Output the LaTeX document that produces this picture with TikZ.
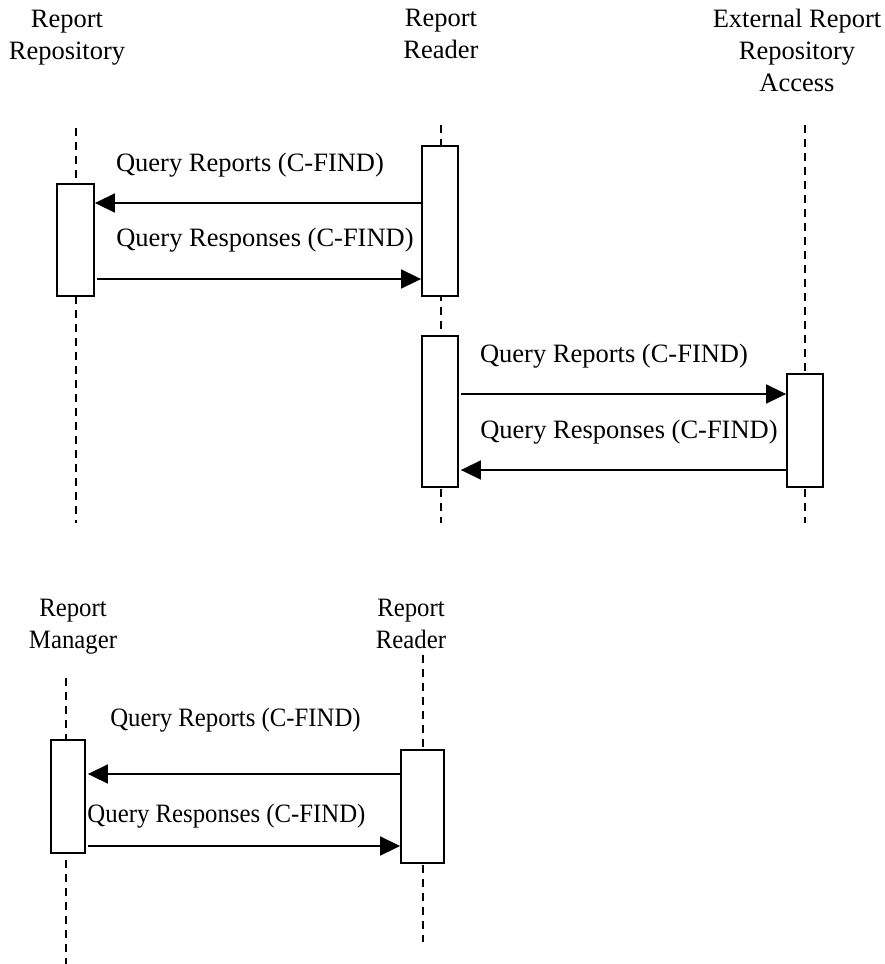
\documentclass[tikz,border=0pt]{standalone}
\usepackage{fontspec}
\setmainfont{Liberation Serif}
\usetikzlibrary{arrows.meta}
\tikzset{
  msg/.style={-{Triangle[length=20pt, width=19pt]}, line width=1.6pt},
  lifeline/.style={dashed, dash pattern=on 8pt off 6pt, line width=1.5pt},
  actbox/.style={draw, line width=1.8pt, fill=white, inner sep=0pt, minimum width=37pt},
  actor/.style={align=center, inner sep=0pt},
  msglabel/.style={inner sep=0pt},
  narrow/.style={xscale=0.935, transform shape}
}

\begin{document}
\begin{tikzpicture}[x=1pt, y=-1pt, every node/.style={font=\fontsize{26.5}{32}\selectfont}]
  \useasboundingbox (0,0) rectangle (885,964);

  % upper diagram
  \node[actor] (repo) at (67,38) {Report\\ Repository};
  \node[actor] (reader) at (441,34) {Report\\ Reader};
  \node[actor] (extacc) at (797,50) {External Report\\ Repository\\ Access};

  \coordinate (repotop) at (76,128);   \coordinate (repobot) at (76,523);
  \coordinate (readtop) at (441,125);  \coordinate (readbot) at (441,523);
  \coordinate (exttop) at (805,125);   \coordinate (extbot) at (805,523);
  \draw[lifeline] (repotop) -- (repobot);
  \draw[lifeline] (readtop) -- (readbot);
  \draw[lifeline] (exttop) -- (extbot);

  \node[actbox, minimum height=112pt] (rp1) at (75.5,240) {};
  \node[actbox, minimum height=150pt, minimum width=36pt] (rd1) at (440,221) {};
  \node[actbox, minimum height=151pt, minimum width=36pt] (rd2) at (440,411.5) {};
  \node[actbox, minimum height=113pt, minimum width=36pt] (ex1) at (805,430.5) {};

  \coordinate (m1) at (0,203);
  \coordinate (m2) at (0,279);
  \coordinate (m3) at (0,394);
  \coordinate (m4) at (0,470);
  \draw[msg] (rd1.west |- m1) -- (rp1.east |- m1);
  \draw[msg] ([xshift=2pt]rp1.east |- m2) -- (rd1.west |- m2);
  \draw[msg] ([xshift=2pt]rd2.east |- m3) -- (ex1.west |- m3);
  \draw[msg] (ex1.west |- m4) -- ([xshift=2pt]rd2.east |- m4);

  \node[msglabel] (q1) at (250,165) {Query Reports (C-FIND)};
  \node[msglabel] (r1) at (265,240) {Query Responses (C-FIND)};
  \node[msglabel] (q2) at (614,356) {Query Reports (C-FIND)};
  \node[msglabel] (r2) at (629,432) {Query Responses (C-FIND)};

  % lower diagram
  \node[actor, narrow] (manager) at (73,627) {Report\\ Manager};
  \node[actor, narrow] (reader2) at (411,624) {Report\\ Reader};

  \coordinate (mgtop) at (66,678);   \coordinate (mgbot) at (66,964);
  \coordinate (rdtop) at (423,655);  \coordinate (rdbot) at (423,942);
  \draw[lifeline] (mgtop) -- (mgbot);
  \draw[lifeline] (rdtop) -- (rdbot);

  \node[actbox, minimum height=113pt, minimum width=34pt] (mg1) at (68,796.5) {};
  \node[actbox, minimum height=113pt, minimum width=43pt] (rd3) at (422.5,806.5) {};

  \coordinate (m5) at (0,774);
  \coordinate (m6) at (0,846);
  \draw[msg] (rd3.west |- m5) -- ([xshift=2pt]mg1.east |- m5);
  \draw[msg] ([xshift=2pt]mg1.east |- m6) -- (rd3.west |- m6);

  \node[msglabel, narrow] (q3) at (235.5,720) {Query Reports (C-FIND)};
  \node[msglabel, narrow] (r3) at (226.5,816) {Query Responses (C-FIND)};
\end{tikzpicture}
\end{document}
